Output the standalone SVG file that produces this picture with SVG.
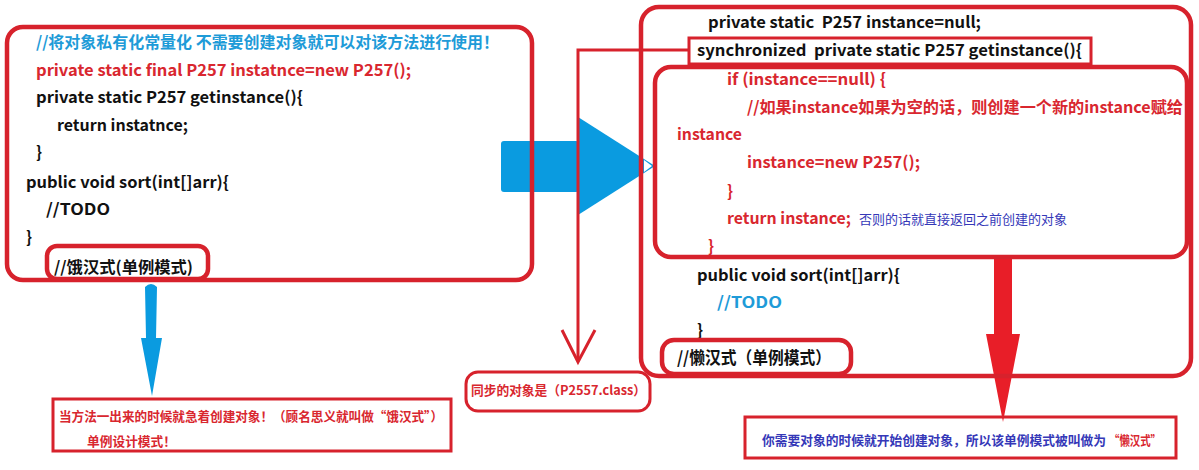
<svg xmlns="http://www.w3.org/2000/svg" width="1199" height="470" viewBox="0 0 1199 470">
<style>
text{font-family:"Noto Sans CJK SC","Liberation Sans",sans-serif;font-weight:bold;font-size:16px}
.k{fill:#111}
.r{fill:#d9272f}
.b{fill:#1e9bd8}
.p{fill:#3538b8;font-weight:normal;font-size:13px}
.sm{font-size:13px}
.box{fill:none;stroke:#d7222c;stroke-width:4.5}
.thin{fill:none;stroke:#d7222c;stroke-width:3}
</style>
<rect width="1199" height="470" fill="#fff"/>
<g id="connectors">
  <rect x="501" y="141" width="78" height="51" rx="3" fill="#0a9be0"/>
  <polygon points="578,117 655,166 578,215" fill="#0a9be0"/>
  <path d="M145,287 Q151,281 157,287 L156,338 L162,338 L152,396 L141,338 L146,338 Z" fill="#0a9be0"/>
  <polygon points="994,257 1012,257 1012,334 1020,334 1003,422 986,334 994,334" fill="#e81e28"/>
  <path class="thin" d="M689,50 L578,50 L578,361"/>
  <path class="thin" d="M562,330 L578,362 L595,330"/>
</g>
<g id="eager-box">
  <rect class="box" x="7" y="27" width="525" height="253" rx="16"/>
  <text class="b" x="36" y="48" textLength="463" lengthAdjust="spacingAndGlyphs">//将对象私有化常量化 不需要创建对象就可以对该方法进行使用！</text>
  <text class="r" x="36" y="76" textLength="375" lengthAdjust="spacingAndGlyphs">private static final P257 instatnce=new P257();</text>
  <text class="k" x="36" y="103" textLength="267" lengthAdjust="spacingAndGlyphs">private static P257 getinstance(){</text>
  <text class="k" x="57" y="131" textLength="131" lengthAdjust="spacingAndGlyphs">return instatnce;</text>
  <text class="k" x="36" y="158">}</text>
  <text class="k" x="26" y="188" textLength="203" lengthAdjust="spacingAndGlyphs">public void sort(int[]arr){</text>
  <text class="k" x="46" y="215" textLength="64" lengthAdjust="spacingAndGlyphs">//TODO</text>
  <text class="k" x="26" y="243">}</text>
</g>
<g id="eager-label">
  <rect class="box" x="47" y="246" width="161" height="33" rx="10" stroke-width="4"/>
  <text class="k" x="54" y="273" textLength="139" lengthAdjust="spacingAndGlyphs">//饿汉式(单例模式)</text>
</g>
<g id="eager-note">
  <rect class="thin" x="53" y="399" width="398" height="52"/>
  <text class="r sm" x="59" y="421" textLength="384" lengthAdjust="spacingAndGlyphs">当方法一出来的时候就急着创建对象！（顾名思义就叫做“饿汉式”）</text>
  <text class="r sm" x="87" y="446" textLength="89" lengthAdjust="spacingAndGlyphs">单例设计模式！</text>
</g>
<g id="lazy-box">
  <rect class="box" x="641" y="7" width="550" height="369" rx="18"/>
  <polygon points="644,160 652,166 644,172" fill="#fff"/>
  <text class="k" x="708" y="28" textLength="273" lengthAdjust="spacingAndGlyphs" xml:space="preserve">private static  P257 instance=null;</text>
  <text class="k" x="697" y="281" textLength="203" lengthAdjust="spacingAndGlyphs">public void sort(int[]arr){</text>
  <text class="b" x="717" y="308" textLength="65" lengthAdjust="spacingAndGlyphs">//TODO</text>
  <text class="k" x="697" y="336">}</text>
</g>
<g id="sync-box">
  <rect class="thin" x="689" y="38" width="402" height="26"/>
  <text class="k" x="697" y="56" textLength="385" lengthAdjust="spacingAndGlyphs" xml:space="preserve">synchronized  private static P257 getinstance(){</text>
</g>
<g id="if-block">
  <rect class="box" x="655" y="67" width="532" height="190" rx="16" stroke-width="3.5"/>
  <text class="r" x="727" y="85" textLength="159" lengthAdjust="spacingAndGlyphs">if (instance==null) {</text>
  <text class="r" x="747" y="113" textLength="436" lengthAdjust="spacingAndGlyphs">//如果instance如果为空的话，则创建一个新的instance赋给</text>
  <text class="r" x="677" y="140" textLength="65" lengthAdjust="spacingAndGlyphs">instance</text>
  <text class="r" x="747" y="168" textLength="173" lengthAdjust="spacingAndGlyphs">instance=new P257();</text>
  <text class="r" x="727" y="197">}</text>
  <text class="r" x="727" y="224" textLength="124" lengthAdjust="spacingAndGlyphs">return instance;</text>
  <text class="p" x="859" y="224" textLength="208" lengthAdjust="spacingAndGlyphs">否则的话就直接返回之前创建的对象</text>
  <text class="r" x="708" y="252">}</text>
</g>
<g id="lazy-label">
  <rect class="box" x="662" y="340" width="189" height="34" rx="12" stroke-width="4"/>
  <text class="k" x="677" y="364" textLength="154" lengthAdjust="spacingAndGlyphs" style="font-size:17px">//懒汉式（单例模式）</text>
</g>
<g id="sync-note">
  <rect class="thin" x="466" y="372" width="184" height="39" rx="12"/>
  <text class="r sm" x="471" y="395" textLength="175" lengthAdjust="spacingAndGlyphs">同步的对象是（P2557.class）</text>
</g>
<g id="lazy-note">
  <rect class="thin" x="745" y="417" width="431" height="41"/>
  <text class="sm" x="762" y="445" textLength="344" lengthAdjust="spacingAndGlyphs" fill="#3538b8">你需要对象的时候就开始创建对象，所以该单例模式被叫做为</text>
  <text class="sm" x="1109" y="445" textLength="52" lengthAdjust="spacingAndGlyphs" fill="#d9272f">“懒汉式”</text>
</g>
</svg>
